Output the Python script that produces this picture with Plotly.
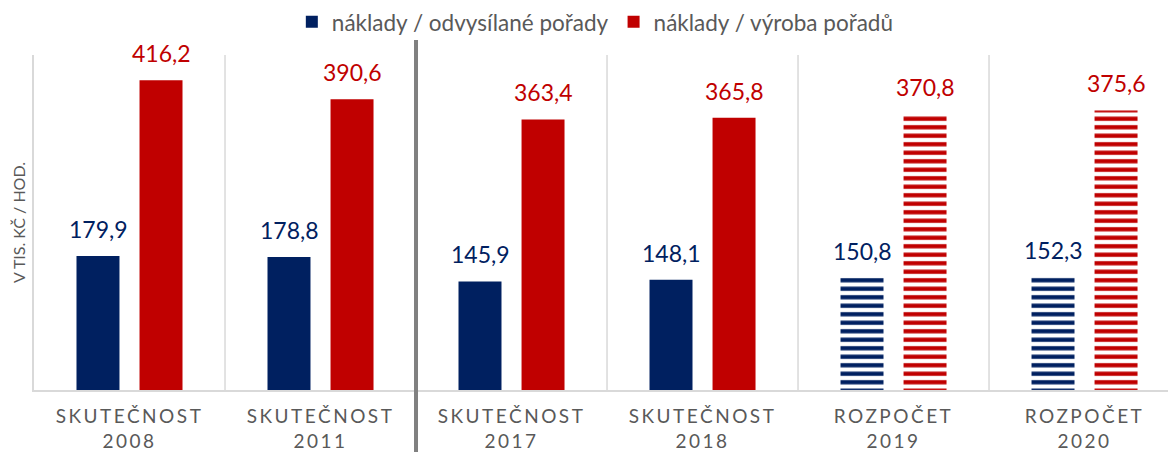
import plotly.graph_objects as go

categories = ["SKUTEČNOST<br>2008", "SKUTEČNOST<br>2011", "SKUTEČNOST<br>2017",
              "SKUTEČNOST<br>2018", "ROZPOČET<br>2019", "ROZPOČET<br>2020"]
aired = [179.9, 178.8, 145.9, 148.1, 150.8, 152.3]
production = [416.2, 390.6, 363.4, 365.8, 370.8, 375.6]
patterns = ["", "", "", "", "-", "-"]
series_names = ["náklady / odvysílané pořady", "náklady / výroba pořadů"]
y_title = "V TIS. KČ / HOD."

BLUE = "#002060"
RED = "#C00000"
GREY = "#595959"
FONT = "Lato"

x = list(range(len(categories)))


def fmt(v):
    return f"{v:.1f}".replace(".", ",")


fig = go.Figure()
annotations = []
for vals, name, col, shift in [(aired, series_names[0], BLUE, -31.5),
                               (production, series_names[1], RED, 31.5)]:
    fig.add_trace(go.Bar(
        x=x, y=vals, name=name,
        marker=dict(color=col, line=dict(width=0),
                    pattern=dict(shape=patterns, fgcolor=col, bgcolor="white",
                                 size=8.5, solidity=0.5, fillmode="replace")),
        hoverinfo="x+y",
    ))
    for xi, v in zip(x, vals):
        annotations.append(dict(x=xi, y=v, xref="x", yref="y", text=fmt(v),
                                showarrow=False, xshift=shift, yshift=11,
                                yanchor="bottom", xanchor="center",
                                font=dict(family=FONT, size=23, color=col)))

shapes = []
for sx in [0.5, 2.5, 3.5, 4.5]:
    shapes.append(dict(type="line", xref="x", yref="paper", x0=sx, x1=sx, y0=0, y1=1,
                       line=dict(color="#D9D9D9", width=1.5), layer="below"))
shapes.append(dict(type="line", xref="x", yref="paper", x0=1.5, x1=1.5, y0=-0.19, y1=1.045,
                   line=dict(color="#808080", width=4), layer="above"))

fig.update_layout(
    width=1168, height=452,
    margin=dict(l=34, r=0, t=55, b=62, autoexpand=False),
    plot_bgcolor="white", paper_bgcolor="white",
    barmode="group", bargap=0.34, bargroupgap=0.318,
    separators=", ",
    font=dict(family=FONT, color=GREY),
    shapes=shapes,
    annotations=annotations,
    legend=dict(orientation="h", x=0.495, xanchor="center", yref="container",
                y=0.951, yanchor="middle",
                font=dict(family=FONT, size=22.5, color=GREY), itemwidth=30,
                bgcolor="rgba(0,0,0,0)"),
    xaxis=dict(range=[-0.5, 5.437], tickmode="array", tickvals=x, ticktext=categories,
               showgrid=False, showline=True, linecolor="#D9D9D9", linewidth=2,
               ticks="", tickfont=dict(family=FONT, size=19, color=GREY),
               ticklabelstandoff=8, zeroline=False, automargin=False),
    yaxis=dict(range=[0, 450], showgrid=False, showticklabels=False, ticks="",
               showline=True, linecolor="#D9D9D9", linewidth=1.5, zeroline=False,
               automargin=False,
               title=dict(text=y_title, font=dict(family=FONT, size=16, color=GREY), standoff=3)),
)

post = """
document.body.style.margin = '0';
document.body.style.padding = '0';
var st = document.createElement('style');
st.innerHTML = '.xtick text{letter-spacing:2.5px;}';
document.head.appendChild(st);
"""
fig.write_html("out.html", post_script=post, config={"displayModeBar": False})
